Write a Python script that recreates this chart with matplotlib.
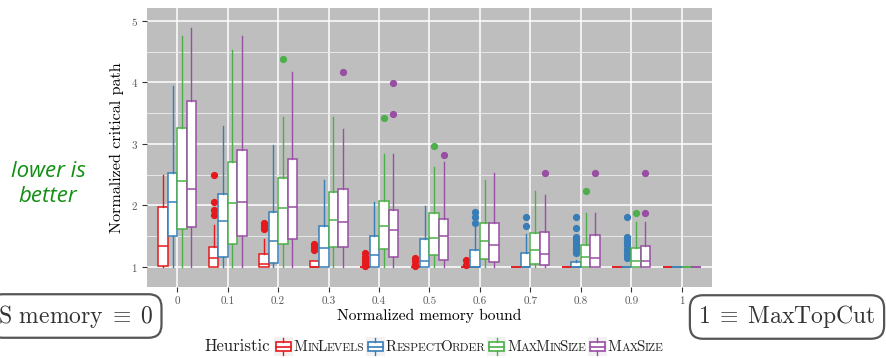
import matplotlib
matplotlib.use("Agg")
import matplotlib.pyplot as plt
from matplotlib.patches import Rectangle
from matplotlib.lines import Line2D
from matplotlib.transforms import IdentityTransform

plt.rcParams["font.family"] = ["cmr10", "DejaVu Serif"]
plt.rcParams["mathtext.fontset"] = "cm"
plt.rcParams["axes.formatter.use_mathtext"] = True

# ---- data ----------------------------------------------------------------
bounds = ["0", "0.1", "0.2", "0.3", "0.4", "0.5", "0.6", "0.7", "0.8", "0.9", "1"]
heuristics = ["MinLevels", "RespectOrder", "MaxMinSize", "MaxSize"]
colors = ["#E41A1C", "#377EB8", "#4DAF4A", "#984EA3"]

minlevels_q1 = [1.02, 1.0, 1.0, 1.0, 1.0, 1.0, 1.0, 1.0, 1.0, 1.0, 1.0]
minlevels_med = [1.345, 1.14, 1.05, 1.0, 1.0, 1.0, 1.0, 1.0, 1.0, 1.0, 1.0]
minlevels_q3 = [1.98, 1.33, 1.21, 1.09, 1.0, 1.0, 1.0, 1.0, 1.0, 1.0, 1.0]
minlevels_whislo = [1.0] * 11
minlevels_whishi = [2.50, 1.68, 1.45, 1.09, 1.0, 1.0, 1.0, 1.0, 1.0, 1.0, 1.0]
minlevels_fliers = [[], [2.50, 2.06, 1.92, 1.84], [1.72, 1.67, 1.62],
                    [1.38, 1.33, 1.28], [1.22, 1.17, 1.12, 1.08, 1.04, 1.01],
                    [1.14, 1.09, 1.04, 1.01], [1.12, 1.04], [], [], [], []]

respect_q1 = [1.50, 1.16, 1.07, 1.0, 1.0, 1.0, 1.0, 1.0, 1.0, 1.0, 1.0]
respect_med = [2.05, 1.75, 1.42, 1.31, 1.19, 1.09, 1.0, 1.0, 1.0, 1.0, 1.0]
respect_q3 = [2.53, 2.18, 1.90, 1.67, 1.50, 1.46, 1.28, 1.22, 1.08, 1.0, 1.0]
respect_whislo = [1.0] * 11
respect_whishi = [3.95, 3.29, 2.98, 2.41, 2.06, 1.99, 1.65, 1.53, 1.12, 1.0, 1.0]
respect_fliers = [[], [], [], [], [], [], [1.90, 1.81, 1.72], [1.81, 1.66],
                  [1.81, 1.64, 1.49, 1.45, 1.40, 1.36, 1.31, 1.27, 1.22],
                  [1.82, 1.49, 1.45, 1.40, 1.35, 1.30, 1.25, 1.19, 1.14], []]

maxmin_q1 = [1.61, 1.37, 1.37, 1.33, 1.29, 1.20, 1.13, 1.05, 1.0, 1.0, 1.0]
maxmin_med = [2.40, 2.04, 1.96, 1.77, 1.66, 1.47, 1.43, 1.27, 1.16, 1.09, 1.0]
maxmin_q3 = [3.26, 2.70, 2.45, 2.22, 2.08, 1.88, 1.71, 1.55, 1.36, 1.31, 1.0]
maxmin_whislo = [1.0] * 11
maxmin_whishi = [4.75, 4.53, 3.44, 3.44, 2.83, 2.63, 2.41, 2.23, 1.87, 1.73, 1.0]
maxmin_fliers = [[], [], [4.38], [], [3.42], [2.96], [], [], [2.23], [1.88], []]

maxsize_q1 = [1.65, 1.50, 1.45, 1.33, 1.16, 1.11, 1.08, 1.03, 1.0, 1.0, 1.0]
maxsize_med = [2.26, 2.06, 1.98, 1.73, 1.60, 1.50, 1.36, 1.21, 1.14, 1.09, 1.0]
maxsize_q3 = [3.70, 2.90, 2.75, 2.26, 1.92, 1.78, 1.71, 1.57, 1.52, 1.34, 1.0]
maxsize_whislo = [1.0] * 11
maxsize_whishi = [4.89, 4.75, 4.17, 3.25, 2.83, 2.70, 2.53, 2.17, 1.87, 1.73, 1.0]
maxsize_fliers = [[], [], [], [4.17], [3.99, 3.48], [2.82], [], [2.53], [2.53],
                  [2.53, 1.88], []]

series = [
    (minlevels_q1, minlevels_med, minlevels_q3, minlevels_whislo, minlevels_whishi, minlevels_fliers),
    (respect_q1, respect_med, respect_q3, respect_whislo, respect_whishi, respect_fliers),
    (maxmin_q1, maxmin_med, maxmin_q3, maxmin_whislo, maxmin_whishi, maxmin_fliers),
    (maxsize_q1, maxsize_med, maxsize_q3, maxsize_whislo, maxsize_whishi, maxsize_fliers),
]

# ---- figure --------------------------------------------------------------
W, H = 886, 358
fig = plt.figure(figsize=(W / 100, H / 100), dpi=100)
ax = fig.add_axes([147 / W, 1 - 287 / H, (712 - 147) / W, (287 - 8) / H])
ax.set_facecolor("#BEBEBE")
for s in ax.spines.values():
    s.set_visible(False)

slot = 0.75 / 4
n = len(bounds)
for k, (q1, med, q3, lo, hi, fl) in enumerate(series):
    stats = [dict(q1=q1[i], med=med[i], q3=q3[i], whislo=lo[i], whishi=hi[i],
                  fliers=fl[i]) for i in range(n)]
    pos = [i + (k - 1.5) * slot for i in range(n)]
    c = colors[k]
    ax.bxp(stats, positions=pos, widths=slot, showcaps=False, patch_artist=True,
           manage_ticks=False,
           boxprops=dict(facecolor="white", edgecolor=c, linewidth=1.1),
           medianprops=dict(color=c, linewidth=1.1),
           whiskerprops=dict(color=c, linewidth=1.0),
           flierprops=dict(marker="o", markerfacecolor=c, markeredgecolor=c,
                           markersize=4.2, linestyle="none"),
           zorder=3)

ax.set_xlim(-0.6, n - 0.4)
ax.set_ylim(0.675, 5.21)
ax.set_xticks(range(n))
ax.set_xticklabels(bounds)
ax.set_yticks([1, 2, 3, 4, 5])
ax.set_yticks([1.5, 2.5, 3.5, 4.5], minor=True)
ax.grid(True, which="major", color="white", linewidth=1.1, zorder=0)
ax.grid(True, which="minor", axis="y", color="#E8E8E8", linewidth=0.7, zorder=0)
ax.set_axisbelow(True)
ax.tick_params(axis="both", which="major", length=3.5, width=0.8, color="#333333",
               labelsize=8, labelcolor="#555555", pad=3)
ax.tick_params(axis="both", which="minor", length=0)

ax.set_xlabel("Normalized memory bound", fontsize=11.2, labelpad=2)
ax.set_ylabel("Normalized critical path", fontsize=11.6, labelpad=5)

# ---- side notes ----------------------------------------------------------
fig.text(48, H - 184, "lower is\nbetter", transform=None, ha="center", va="center",
         fontsize=16, style="italic", color="#119011", family=["Open Sans", "DejaVu Sans"],
         linespacing=1.3)

box_style = dict(boxstyle="round,pad=0.35,rounding_size=0.55", facecolor="white",
                 edgecolor="#555555", linewidth=1.6)
fig.text(-2, H - 316, r"S memory$\;\equiv\;$0", transform=None, ha="left", va="center",
         fontsize=17, color="#333333", bbox=box_style)
fig.text(787, H - 317, r"1$\;\equiv\;$MaxTopCut", transform=None, ha="center", va="center",
         fontsize=17, color="#333333", bbox=box_style)

# ---- legend with small-caps labels, laid out left to right in pixels -----
renderer = fig.canvas.get_renderer()
ident = IdentityTransform()
y_leg = H - 351
TITLE, BIG, SMALL = 12, 10.8, 8.3
SMALL_TRIM = 2.7   # the reduced-size runs measure wider than they ink


def put_text(x, s, size):
    t = fig.text(x, y_leg, s, transform=ident, ha="left", va="baseline",
                 fontsize=size, color="#222222")
    return x + t.get_window_extent(renderer).width


def small_caps(x, word):
    run, run_upper = "", None
    for ch in word + "\0":
        up = ch.isupper()
        if run and (up != run_upper or ch == "\0"):
            x = put_text(x, run.upper(), BIG if run_upper else SMALL)
            if not run_upper:
                x -= SMALL_TRIM
            run = ""
        run += ch
        run_upper = up
    return x


def key_glyph(x0, color):
    yb = y_leg - 5
    s = 19
    fig.add_artist(Rectangle((x0, yb), s, s, facecolor="#F2F2F2", edgecolor="none",
                             transform=ident))
    cx = x0 + s / 2
    fig.add_artist(Line2D([cx, cx], [yb + 1, yb + 5], color=color, lw=1.0, transform=ident))
    fig.add_artist(Line2D([cx, cx], [yb + 14, yb + 18], color=color, lw=1.0, transform=ident))
    fig.add_artist(Rectangle((x0 + 2, yb + 5), s - 4, 9, facecolor="white",
                             edgecolor=color, lw=1.2, transform=ident))
    fig.add_artist(Line2D([x0 + 2, x0 + s - 2], [yb + 9.5, yb + 9.5], color=color,
                          lw=1.2, transform=ident))
    return x0 + s


x = put_text(204, "Heuristic", TITLE)
for name, c in zip(heuristics, colors):
    x = key_glyph(x + 4, c)
    x = small_caps(x + 1, name)

fig.savefig("out.png", dpi=100)
